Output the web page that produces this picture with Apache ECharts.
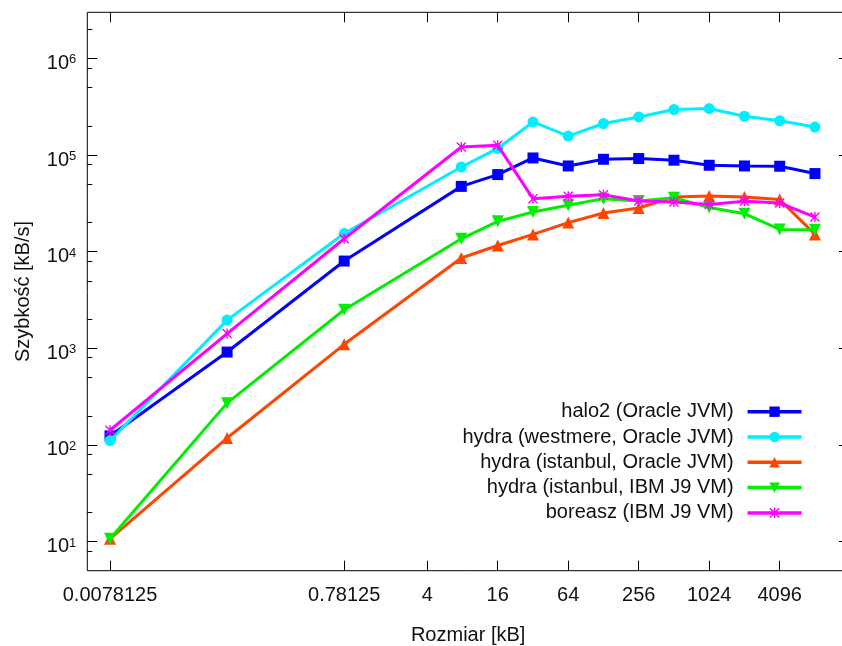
<!DOCTYPE html>
<html><head><meta charset="utf-8">
<script src="https://cdn.jsdelivr.net/npm/echarts@6/dist/echarts.min.js"></script>
<style>html,body{margin:0;padding:0;background:#fff}#c{width:842px;height:646px}</style>
</head><body><div id="c"></div>
<script>
// ---- data ----
const sizes = [0.0078125, 0.078125, 0.78125, 7.8125, 16, 32, 64, 128, 256, 512, 1024, 2048, 4096, 8192];
const seriesNames = ['halo2 (Oracle JVM)', 'hydra (westmere, Oracle JVM)', 'hydra (istanbul, Oracle JVM)', 'hydra (istanbul, IBM J9 VM)', 'boreasz (IBM J9 VM)'];
const halo2 = [124, 915, 8000, 47400, 62800, 93300, 77100, 90400, 92000, 88400, 78400, 77100, 76600, 64300];
const westmere = [111, 1960, 15400, 75200, 117000, 220000, 157000, 212000, 248000, 296000, 303000, 252000, 226000, 195000];
const istanbulOracle = [10.7, 118, 1100, 8600, 11600, 15100, 20000, 25100, 28300, 36800, 37700, 36800, 34600, 15100];
const istanbulIBM = [10.7, 271, 2510, 13600, 20600, 25700, 30200, 35400, 33400, 36200, 28600, 24700, 17000, 16900];
const boreasz = [142, 1420, 13600, 121000, 126000, 35400, 37400, 38900, 33400, 32600, 30700, 33200, 31900, 22800];
const xTicks = [0.0078125, 0.78125, 4, 16, 64, 256, 1024, 4096];
const xTickLabels = ['0.0078125', '0.78125', '4', '16', '64', '256', '1024', '4096'];
const yTicks = [10, 100, 1000, 10000, 100000, 1000000];
const yMinorTicks = [8, 20, 50, 80, 200, 500, 800, 2000, 5000, 8000, 20000, 50000, 80000, 200000, 500000, 800000, 2000000];
const xTitle = 'Rozmiar [kB]';
const yTitle = 'Szybkość [kB/s]';

// ---- styles ----
const FONT = '"Liberation Sans", Arial, sans-serif';
const TXT = '#111';
const colors = ['#0000ff', '#00eeff', '#ff4500', '#00ee00', '#ff00ff'];
const STAR = 'path://M0,1 L1,0 L5,4 L9,0 L10,1 L6,5 L10,9 L9,10 L5,6 L1,10 L0,9 L4,5 Z M4.3,0 L5.7,0 L5.7,10 L4.3,10 Z';
const symbols = ['rect', 'circle', 'triangle', 'triangle', STAR];
const symbolSizes = [11, 11, 12, 12, 10];
const rotates = [0, 0, 0, 180, 0];
const values = [halo2, westmere, istanbulOracle, istanbulIBM, boreasz];

const X_MIN = 0.005, X_MAX = 16000, Y_MIN = 5, Y_MAX = 3000000;
const tickStyle = { color: '#000', width: 1 };

function xLabel(v) {
  let best = 0;
  for (let i = 0; i < xTicks.length; i++) {
    if (Math.abs(Math.log2(xTicks[i]) - Math.log2(v)) < Math.abs(Math.log2(xTicks[best]) - Math.log2(v))) best = i;
  }
  return xTickLabels[best];
}

const chart = echarts.init(document.getElementById('c'), null, { renderer: 'canvas' });
chart.setOption({
  animation: false,
  backgroundColor: '#fff',
  grid: { left: 87.3, right: -7, top: 12.3, bottom: 75.3, show: true, borderColor: '#000', borderWidth: 1, outerBoundsMode: 'none' },
  xAxis: [
    {
      type: 'log', logBase: 2, min: X_MIN, max: X_MAX, position: 'bottom',
      axisLine: { show: false }, splitLine: { show: false }, minorTick: { show: false },
      axisTick: { show: true, inside: true, length: 10, customValues: xTicks, lineStyle: tickStyle },
      axisLabel: { customValues: xTicks, formatter: xLabel, margin: 15, fontSize: 20, fontFamily: FONT, color: TXT },
      name: xTitle, nameLocation: 'middle', nameGap: 55,
      nameTextStyle: { fontSize: 20, fontFamily: FONT, color: TXT }
    },
    {
      type: 'log', logBase: 2, min: X_MIN, max: X_MAX, position: 'top',
      axisLine: { show: false }, splitLine: { show: false },
      axisTick: { show: true, inside: true, length: 10, customValues: xTicks, lineStyle: tickStyle },
      axisLabel: { show: false }
    }
  ],
  yAxis: [
    {
      type: 'log', logBase: 10, min: Y_MIN, max: Y_MAX, position: 'left',
      axisLine: { show: false }, splitLine: { show: false },
      axisTick: { show: true, inside: true, length: 10, customValues: yTicks, lineStyle: tickStyle },
      axisLabel: {
        customValues: yTicks, margin: 11, padding: [10, 0, 0, 0],
        formatter: v => '{b|10}{s|' + Math.round(Math.log10(v)) + '}',
        rich: {
          b: { fontSize: 20, lineHeight: 20, fontFamily: FONT, color: TXT },
          s: { fontSize: 13, lineHeight: 10, verticalAlign: 'top', fontFamily: FONT, color: TXT }
        }
      },
      name: yTitle, nameLocation: 'middle', nameGap: 54,
      nameTextStyle: { fontSize: 20, fontFamily: FONT, color: TXT }
    },
    {
      type: 'log', logBase: 10, min: Y_MIN, max: Y_MAX, position: 'left',
      axisLine: { show: false }, splitLine: { show: false },
      axisTick: { show: true, inside: true, length: 5, customValues: yMinorTicks, lineStyle: tickStyle },
      axisLabel: { show: false }
    },
    {
      type: 'log', logBase: 10, min: Y_MIN, max: Y_MAX, position: 'right',
      axisLine: { show: false }, splitLine: { show: false },
      axisTick: { show: true, inside: true, length: 10, customValues: yTicks, lineStyle: tickStyle },
      axisLabel: { show: false }
    }
  ],
  legend: {
    orient: 'vertical', right: 38.7, top: 401.7, align: 'right', padding: 0,
    itemWidth: 54, itemHeight: 13, itemGap: 5.3,
    lineStyle: { width: 3.5 },
    textStyle: { fontSize: 20, lineHeight: 20, fontFamily: FONT, color: TXT, padding: [0, 9, 0, 0] },
    data: seriesNames
  },
  series: seriesNames.map((name, i) => ({
    name, type: 'line', xAxisIndex: 0, yAxisIndex: 0,
    data: sizes.map((s, j) => [s, values[i][j]]),
    symbol: symbols[i], symbolSize: symbolSizes[i], symbolRotate: rotates[i],
    lineStyle: { width: 3, color: colors[i] },
    itemStyle: { color: colors[i] },
    emphasis: { disabled: true },
    clip: false,
    z: 2 + i
  }))
});
</script></body></html>
